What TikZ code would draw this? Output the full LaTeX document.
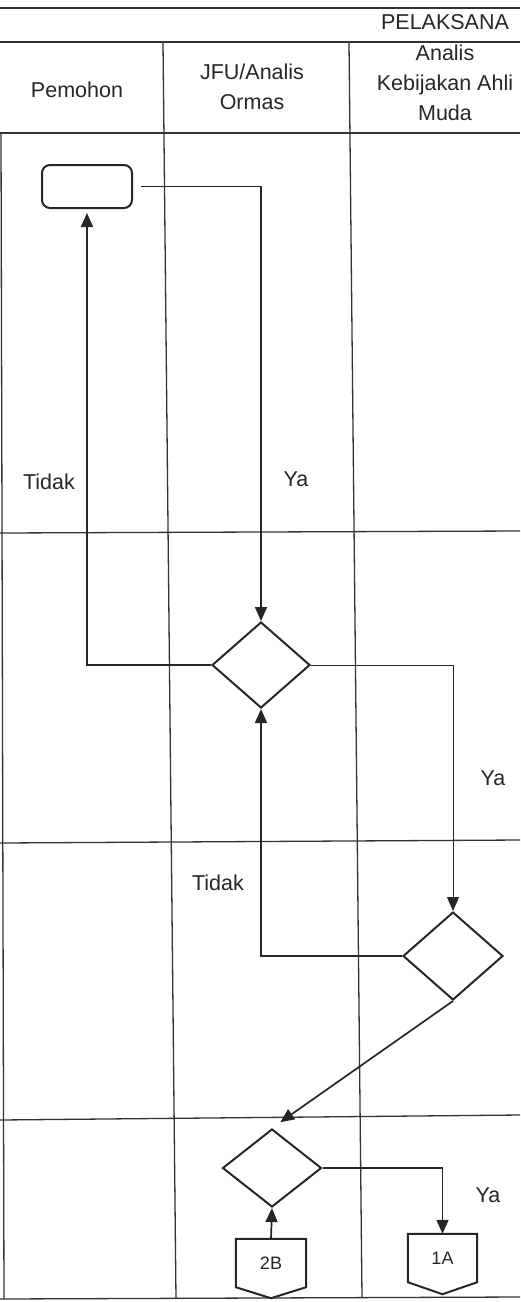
\documentclass[tikz,border=0pt]{standalone}
\usepackage{fontspec}
\setmainfont{Liberation Sans}
\usetikzlibrary{arrows.meta,shapes.geometric,calc}
\begin{document}
\begin{tikzpicture}[x=1pt,y=-1pt,
  grid/.style={line width=1.3pt,draw=black!80},
  shapeline/.style={line width=2pt,draw=black!85},
  conn/.style={line width=1.7pt,draw=black!85},
  thinconn/.style={line width=1pt,draw=black!85},
  arr/.style={-{Triangle[length=14pt,width=12pt]}},
  dec/.style={diamond,shapeline,inner sep=0pt},
  lbl/.style={font=\fontsize{21.5}{30}\selectfont,text=black!85,inner sep=0pt},
  hdr/.style={font=\fontsize{21.5}{30}\selectfont,text=black!85,align=center,inner sep=0pt},
  offtxt/.style={font=\fontsize{18}{20}\selectfont,text=black!85,inner sep=0pt}
]
\useasboundingbox (0,0) rectangle (520,1302);
% grid
\draw[grid] (0,8) -- (520,8);
\draw[grid] (0,42) -- (520,42);
\draw[grid] (0,133) -- (520,133);
\draw[grid] (0,533) -- (520,531);
\draw[grid] (0,843) -- (520,840);
\draw[grid] (0,1120) -- (520,1115);
\draw[grid] (0,1299) -- (520,1297);
\draw[grid] (163,42) -- (176,1299);
\draw[grid] (349,42) -- (362,1297);
\draw[grid] (1,133) -- (4,1299);
% header
\node[hdr] (hp) at (445,22) {PELAKSANA};
\node[hdr] (h1) at (77,90) {Pemohon};
\node[hdr] (h2) at (252,87) {JFU/Analis\\Ormas};
\node[hdr] (h3) at (445,83) {Analis\\Kebijakan Ahli\\Muda};
% shapes
\node[shapeline,draw,rounded corners=8pt,minimum width=90pt,minimum height=43pt,inner sep=0pt] (start) at (87,186.5) {};
\node[dec,minimum width=98pt,minimum height=86pt] (d1) at (261,665) {};
\node[dec,minimum width=100pt,minimum height=88pt] (d2) at (453,956) {};
\node[dec,minimum width=99pt,minimum height=78pt] (d3) at (272,1168) {};
\node[offtxt,minimum width=70pt,minimum height=48pt] (c2B) at (271,1263) {2B};
\node[offtxt,minimum width=69pt,minimum height=48pt] (c1A) at (442.5,1258) {1A};
\draw[shapeline] (c2B.north west) -- (c2B.north east) -- (c2B.south east) -- ($(c2B.south)+(0,11)$) -- (c2B.south west) -- cycle;
\draw[shapeline] (c1A.north west) -- (c1A.north east) -- (c1A.south east) -- ($(c1A.south)+(0,12)$) -- (c1A.south west) -- cycle;
% connectors
\draw[conn,arr] ([xshift=8pt]start.east) -| (d1.north);
\draw[conn,arr,shorten >=4pt] (d1.west) -| (start.south);
\draw[thinconn,arr] (d1.east) -| (d2.north);
\draw[conn,arr] (d2.west) -| (d1.south);
\draw[conn,arr,shorten >=10pt] (d2.south) -- (d3.north);
\draw[conn,arr] (d3.east) -| (c1A.north);
\draw[conn,arr] (c2B.north) -- (d3.south);
% labels
\node[lbl] (l1) at (49,482) {Tidak};
\node[lbl] (l2) at (296,479) {Ya};
\node[lbl] (l3) at (493,778) {Ya};
\node[lbl] (l4) at (218,883) {Tidak};
\node[lbl] (l5) at (488,1195) {Ya};
\end{tikzpicture}
\end{document}
